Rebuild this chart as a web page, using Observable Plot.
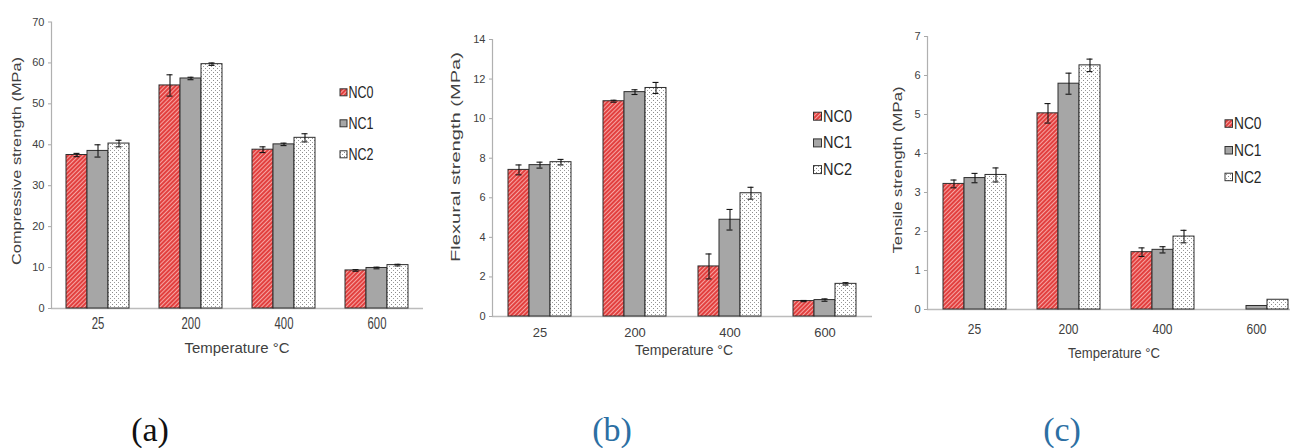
<!DOCTYPE html>
<html>
<head>
<meta charset="utf-8">
<script src="https://cdn.jsdelivr.net/npm/d3@7"></script>
<script src="https://cdn.jsdelivr.net/npm/@observablehq/plot@0.6"></script>
<style>
  html, body { margin: 0; padding: 0; background: #fff; }
  #page { position: relative; width: 1290px; height: 448px; overflow: hidden; background: #fff; }
  .panel { position: absolute; top: 0; }
  #overlay { position: absolute; left: 0; top: 0; }
</style>
</head>
<body>
<div id="page">
  <svg width="0" height="0" style="position:absolute">
    <defs>
      <pattern id="hatchNC0" width="3" height="3" patternUnits="userSpaceOnUse" patternTransform="rotate(-45)">
        <rect width="3" height="3" fill="#e2403f"></rect>
        <rect width="3" height="1" fill="#f6a4a2"></rect>
      </pattern>
      <pattern id="dotsNC2" width="4" height="4" patternUnits="userSpaceOnUse">
        <rect width="4" height="4" fill="#ffffff"></rect>
        <rect x="0" y="0" width="1" height="1" fill="#8a8a8a"></rect>
        <rect x="2" y="2" width="1" height="1" fill="#9a9a9a"></rect>
      </pattern>
    </defs>
  </svg>
</div>
<script>
// ---------- DATA ----------
const temperatures = ["25", "200", "400", "600"];
const mixes = ["NC0", "NC1", "NC2"];

const compressiveNC0 = [37.5, 54.5, 38.8, 9.3];
const compressiveNC1 = [38.5, 56.2, 40.1, 9.9];
const compressiveNC2 = [40.3, 59.7, 41.7, 10.6];
const compressiveErrNC0 = [0.4, 2.6, 0.7, 0.2];
const compressiveErrNC1 = [1.5, 0.3, 0.3, 0.2];
const compressiveErrNC2 = [0.8, 0.3, 1.0, 0.2];
const compressiveTicks = [0, 10, 20, 30, 40, 50, 60, 70];

const flexuralNC0 = [7.41, 10.88, 2.53, 0.78];
const flexuralNC1 = [7.65, 11.34, 4.89, 0.83];
const flexuralNC2 = [7.80, 11.55, 6.23, 1.65];
const flexuralErrNC0 = [0.25, 0.05, 0.63, 0.03];
const flexuralErrNC1 = [0.15, 0.12, 0.52, 0.06];
const flexuralErrNC2 = [0.14, 0.28, 0.30, 0.06];
const flexuralTicks = [0, 2, 4, 6, 8, 10, 12, 14];

const tensileNC0 = [3.22, 5.03, 1.47, 0];
const tensileNC1 = [3.37, 5.79, 1.53, 0.09];
const tensileNC2 = [3.45, 6.26, 1.87, 0.25];
const tensileErrNC0 = [0.10, 0.25, 0.11, 0];
const tensileErrNC1 = [0.12, 0.27, 0.08, 0];
const tensileErrNC2 = [0.18, 0.16, 0.16, 0];
const tensileTicks = [0, 1, 2, 3, 4, 5, 6, 7];

const yTitles = ["Compressive strength (MPa)", "Flexural strength (MPa)", "Tensile strength (MPa)"];
const xTitle = "Temperature °C";
const captions = ["(a)", "(b)", "(c)"];

// ---------- STYLE ----------
const fillOf = {NC0: "url(#hatchNC0)", NC1: "#a6a6a6", NC2: "url(#dotsNC2)"};
const SANS = "'Liberation Sans', Arial, sans-serif";

const panels = [
  {values: [compressiveNC0, compressiveNC1, compressiveNC2], errors: [compressiveErrNC0, compressiveErrNC1, compressiveErrNC2],
   ticks: compressiveTicks, left: 0, width: 430, height: 340, ml: 51, mr: 7, mt: 21.5, mb: 32,
   fxPad: 9, fxFont: 16, digitW: 6.3},
  {values: [flexuralNC0, flexuralNC1, flexuralNC2], errors: [flexuralErrNC0, flexuralErrNC1, flexuralErrNC2],
   ticks: flexuralTicks, left: 440, width: 441, height: 345, ml: 50, mr: 8, mt: 39, mb: 29,
   fxPad: 11, fxFont: 13.5, digitW: 7.2},
  {values: [tensileNC0, tensileNC1, tensileNC2], errors: [tensileErrNC0, tensileErrNC1, tensileErrNC2],
   ticks: tensileTicks, left: 875, width: 431, height: 345, ml: 50, mr: 2, mt: 36, mb: 36,
   fxPad: 15, fxFont: 14, digitW: 6.7}
];

const page = document.getElementById("page");

panels.forEach(cfg => {
  const rows = [];
  mixes.forEach((m, j) => temperatures.forEach((t, i) =>
    rows.push({temperature: t, mix: m, value: cfg.values[j][i], err: cfg.errors[j][i]})));
  const withErr = rows.filter(d => d.err > 0);
  const ink = {stroke: "#151515", strokeWidth: 1.1};
  const svg = Plot.plot({
    width: cfg.width, height: cfg.height,
    marginLeft: cfg.ml, marginRight: cfg.mr, marginTop: cfg.mt, marginBottom: cfg.mb,
    style: {fontFamily: SANS, fontSize: "11px", color: "#404040", background: "transparent", overflow: "visible"},
    fx: {domain: temperatures, padding: 0, label: null},
    x: {domain: mixes, paddingInner: 0, paddingOuter: 0.7, axis: null},
    y: {domain: [0, d3.max(cfg.ticks)], label: null},
    marks: [
      Plot.ruleY([0], {stroke: "#bcbcbc", strokeWidth: 1.3}),
      Plot.frame({anchor: "left", facetAnchor: "left", stroke: "#b0b0b0", strokeWidth: 1.2}),
      ...mixes.map(m => Plot.barY(rows.filter(d => d.mix === m && d.value > 0), {
        fx: "temperature", x: "mix", y: "value", fill: fillOf[m], stroke: "#2e2e2e", strokeWidth: 1
      })),
      Plot.ruleX(withErr, {fx: "temperature", x: "mix", y1: d => d.value - d.err, y2: d => d.value + d.err, ...ink}),
      Plot.tickY(withErr, {fx: "temperature", x: "mix", y: d => d.value + d.err, insetLeft: 7.5, insetRight: 7.5, ...ink}),
      Plot.tickY(withErr, {fx: "temperature", x: "mix", y: d => d.value - d.err, insetLeft: 7.5, insetRight: 7.5, ...ink}),
      Plot.axisY({ticks: cfg.ticks, tickSize: 3, tickPadding: 4, stroke: "#a8a8a8", fontSize: 11, label: null, tickFormat: d => String(d)}),
      Plot.axisFx({anchor: "bottom", tickSize: 0, tickPadding: cfg.fxPad, fontSize: cfg.fxFont, label: null})
    ]
  });
  // condense the category labels to the narrow look of the original
  svg.querySelectorAll('[aria-label="fx-axis tick label"] text').forEach(t => {
    t.setAttribute("textLength", cfg.digitW * t.textContent.length);
    t.setAttribute("lengthAdjust", "spacingAndGlyphs");
  });
  svg.classList.add("panel");
  svg.style.left = cfg.left + "px";
  page.appendChild(svg);
});

// ---------- OVERLAY: axis titles, legends, captions ----------
const overlay = d3.select(page).append("svg").attr("id", "overlay")
  .attr("width", 1290).attr("height", 448);

const yTitleLayout = [
  {x: 16, y: 161, len: 208}, {x: 455, y: 157, len: 210}, {x: 897, y: 170, len: 167}
];
yTitles.forEach((t, i) => {
  const L = yTitleLayout[i];
  overlay.append("text")
    .attr("transform", `translate(${L.x},${L.y}) rotate(-90)`)
    .attr("text-anchor", "middle").attr("dy", "0.35em")
    .attr("font-family", SANS).attr("font-size", 13).attr("fill", "#404040")
    .attr("textLength", L.len).attr("lengthAdjust", "spacingAndGlyphs")
    .text(t);
});

const xTitleLayout = [
  {x: 237, y: 352.5, len: 105, size: 15}, {x: 684, y: 355, len: 98, size: 14}, {x: 1114, y: 357.5, len: 92, size: 14}
];
xTitleLayout.forEach(L => {
  overlay.append("text")
    .attr("x", L.x).attr("y", L.y).attr("text-anchor", "middle")
    .attr("font-family", SANS).attr("font-size", L.size).attr("fill", "#404040")
    .attr("textLength", L.len).attr("lengthAdjust", "spacingAndGlyphs")
    .text(xTitle);
});

const legendLayout = [
  {x: 340, y: 98.3, gap: 31, box: 7, len: 25},
  {x: 813.5, y: 121.7, gap: 26.7, box: 8, len: 29},
  {x: 1225, y: 129.3, gap: 26.7, box: 7.5, len: 27.5}
];
legendLayout.forEach(L => {
  mixes.forEach((m, j) => {
    const base = L.y + j * L.gap;
    overlay.append("rect")
      .attr("x", L.x).attr("y", base - 9.5).attr("width", L.box).attr("height", L.box)
      .attr("fill", fillOf[m]).attr("stroke", "#333").attr("stroke-width", 1);
    overlay.append("text")
      .attr("x", L.x + L.box + 1.5).attr("y", base)
      .attr("font-family", SANS).attr("font-size", 16.5).attr("fill", "#262626")
      .attr("textLength", L.len).attr("lengthAdjust", "spacingAndGlyphs")
      .text(m);
  });
});

const captionLayout = [
  {x: 150, color: "#111111"}, {x: 612, color: "#2c6fa3"}, {x: 1062, color: "#2c6fa3"}
];
captions.forEach((c, i) => {
  overlay.append("text")
    .attr("x", captionLayout[i].x).attr("y", 441).attr("text-anchor", "middle")
    .attr("font-family", "'Liberation Serif', 'Times New Roman', serif").attr("font-size", 34)
    .attr("fill", captionLayout[i].color)
    .text(c);
});
</script>
</body>
</html>
